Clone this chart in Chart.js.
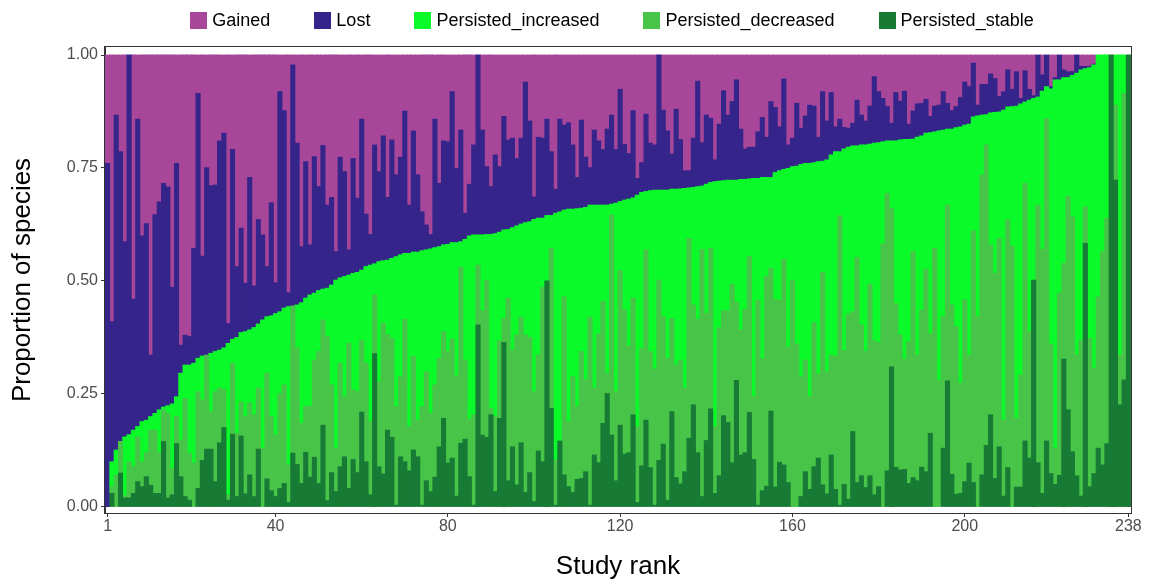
<!DOCTYPE html>
<html>
<head>
<meta charset="utf-8">
<script src="https://cdn.jsdelivr.net/npm/chart.js@4.4.1/dist/chart.umd.min.js"></script>
<style>
  html, body { margin: 0; padding: 0; background: #ffffff; }
  #wrap { width: 1151px; height: 585px; position: relative; }
  #legend {
    position: absolute; left: 99px; width: 1026px; top: 11px; height: 18px;
    display: flex; justify-content: center; align-items: center;
    font-family: 'Liberation Sans', Arial, sans-serif; font-size: 18px; color: #000;
  }
  .item { display: flex; align-items: center; margin: 0 22px; white-space: nowrap; }
  .key { width: 17px; height: 17px; margin-right: 5px; }
</style>
</head>
<body>
<div id="wrap">
  <canvas id="chart" width="1151" height="585"></canvas>
  <div id="legend"></div>
</div>
<script>
// study ranks 1..238 (categories)
const ranks = Array.from({ length: 238 }, (_, i) => i + 1);
const xTicks = [1, 40, 80, 120, 160, 200, 238];
const yTicks = [0, 0.25, 0.5, 0.75, 1];

// proportions, one value per study
const persistedStable = [
	0, 0.03, 0, 0.075, 0.02, 0.02, 0.03, 0.056, 0.045, 0.067, 0.048, 0.03, 0.03, 0.145, 0.02, 0.027, 0.14, 0.067, 0.023, 0.015,
	0, 0.041, 0.103, 0.128, 0.128, 0.056, 0.142, 0.176, 0.015, 0.161, 0.023, 0.157, 0.029, 0.071, 0.023, 0.128, 0, 0.062, 0.036, 0.023,
	0.041, 0.052, 0.01, 0.119, 0.094, 0.052, 0.121, 0.066, 0.11, 0.052, 0.181, 0.014, 0.076, 0.034, 0.089, 0.111, 0.041, 0.105, 0.076, 0.21,
	0.1, 0.027, 0.339, 0.089, 0.073, 0.17, 0.154, 0.004, 0.111, 0.1, 0.08, 0.126, 0.111, 0.004, 0.058, 0.034, 0.066, 0.133, 0.196, 0.097,
	0.108, 0.024, 0.141, 0.15, 0.067, 0.004, 0.403, 0.159, 0.154, 0.204, 0.034, 0.196, 0.364, 0.058, 0.133, 0.049, 0.142, 0.032, 0.076, 0.012,
	0.124, 0.1, 0.5, 0.218, 0.004, 0.146, 0.071, 0.045, 0.032, 0.061, 0.063, 0.078, 0.004, 0.115, 0.098, 0.185, 0.251, 0.159, 0.058, 0.181,
	0.117, 0.12, 0.204, 0.01, 0.091, 0.192, 0.087, 0.004, 0.103, 0.139, 0.015, 0.211, 0.065, 0.051, 0.078, 0.152, 0.226, 0.12, 0.023, 0.147,
	0.217, 0.03, 0.069, 0.202, 0.187, 0.098, 0.28, 0.115, 0.12, 0.209, 0.105, 0.004, 0.036, 0.046, 0.212, 0.044, 0.099, 0.093, 0.054, 0,
	0, 0.023, 0.078, 0.039, 0.089, 0.108, 0.049, 0.029, 0.115, 0.039, 0.004, 0.05, 0.017, 0.167, 0.054, 0.069, 0.043, 0.069, 0.027, 0.045,
	0, 0.08, 0.31, 0.088, 0.082, 0.083, 0.052, 0.065, 0.058, 0.088, 0.078, 0.163, 0, 0, 0.13, 0.279, 0.072, 0.028, 0.03, 0.056,
	0.097, 0.054, 0, 0.071, 0.136, 0.204, 0.063, 0.133, 0.024, 0.087, 0, 0.044, 0.044, 0.146, 0.108, 0.502, 0.098, 0.03, 0.146, 0.074,
	0.05, 0.07, 0.327, 0.215, 0.122, 0.069, 0.024, 0.583, 0.045, 0.074, 0.13, 0.093, 0.14, 1, 0.723, 0.226, 0.281, 1
];
const persistedDecreased = [
	0, 0.015, 0.07, 0.07, 0.005, 0.08, 0.06, 0.099, 0.055, 0.053, 0.122, 0.14, 0.09, 0.07, 0.187, 0.058, 0.06, 0.081, 0.217, 0.104,
	0.097, 0.214, 0.134, 0.208, 0.083, 0.199, 0.121, 0.084, 0.012, 0.157, 0.14, 0.075, 0.171, 0.159, 0.181, 0.135, 0.13, 0.234, 0.164, 0.136,
	0.21, 0.218, 0.083, 0.326, 0.258, 0.133, 0.102, 0.157, 0.215, 0.292, 0.233, 0.363, 0.194, 0.096, 0.229, 0.133, 0.321, 0.154, 0.179, 0.158,
	0.218, 0.162, 0.13, 0.188, 0.333, 0.211, 0.219, 0.218, 0.177, 0.315, 0.098, 0.207, 0.081, 0.218, 0.241, 0.173, 0.204, 0.196, 0.192, 0.247,
	0.263, 0.266, 0.389, 0.175, 0.127, 0.2, 0.132, 0.275, 0.347, 0.014, 0.166, 0.172, 0.053, 0.404, 0.214, 0.332, 0.278, 0.349, 0.299, 0.243,
	0.212, 0.386, 0, 0.354, 0.1, 0, 0.394, 0.144, 0.256, 0.161, 0.281, 0.203, 0.416, 0.148, 0.285, 0.27, 0.045, 0.487, 0.197, 0.342,
	0.319, 0.236, 0.258, 0.168, 0.26, 0.377, 0.257, 0.301, 0.399, 0.282, 0.314, 0.206, 0.249, 0.274, 0.185, 0.442, 0.221, 0.295, 0.547, 0.281,
	0.355, 0.148, 0.328, 0.232, 0.247, 0.395, 0.173, 0.277, 0.317, 0.345, 0.139, 0.453, 0.292, 0.464, 0.316, 0.415, 0.358, 0.455, 0.299, 0.501,
	0.361, 0.265, 0.247, 0.205, 0.319, 0.186, 0.47, 0.27, 0.221, 0.294, 0.64, 0.296, 0.41, 0.265, 0.498, 0.334, 0.301, 0.424, 0.341, 0.319,
	0.582, 0.614, 0.35, 0.362, 0.299, 0.244, 0.314, 0.5, 0.278, 0.348, 0.448, 0.22, 0.572, 0.28, 0.291, 0.389, 0.375, 0.371, 0.244, 0.403,
	0.239, 0.557, 0.421, 0.664, 0.665, 0.376, 0.454, 0.461, 0.168, 0.548, 0.577, 0.152, 0.248, 0.57, 0.28, 0, 0.57, 0.54, 0.714, 0.286,
	0.08, 0.403, 0.212, 0.472, 0.52, 0.267, 0.345, 0.081, 0.328, 0.233, 0.335, 0.472, 0.499, 0, 0.166, 0.11, 0.634, 0
];
const persistedIncreased = [
	0, 0.055, 0.056, 0, 0.13, 0.06, 0.08, 0.023, 0.089, 0.072, 0.03, 0.037, 0.095, 0.006, 0.017, 0.143, 0.044, 0.148, 0.074, 0.195,
	0.221, 0.074, 0.097, 0, 0.129, 0.089, 0.084, 0.092, 0.335, 0.053, 0.212, 0.154, 0.188, 0.162, 0.193, 0.142, 0.284, 0.125, 0.223, 0.269,
	0.181, 0.17, 0.35, 0, 0.095, 0.267, 0.239, 0.246, 0.148, 0.135, 0.068, 0.107, 0.221, 0.372, 0.189, 0.266, 0.151, 0.258, 0.264, 0.156,
	0.214, 0.346, 0.069, 0.266, 0.139, 0.165, 0.177, 0.332, 0.27, 0.146, 0.383, 0.231, 0.372, 0.345, 0.27, 0.364, 0.304, 0.247, 0.192, 0.237,
	0.214, 0.295, 0.057, 0.267, 0.406, 0.398, 0.067, 0.168, 0.102, 0.385, 0.405, 0.24, 0.196, 0.152, 0.271, 0.241, 0.206, 0.248, 0.256, 0.381,
	0.303, 0.153, 0.145, 0.073, 0.546, 0.507, 0.192, 0.47, 0.371, 0.438, 0.317, 0.382, 0.248, 0.405, 0.285, 0.213, 0.372, 0.024, 0.417, 0.153,
	0.243, 0.325, 0.222, 0.512, 0.345, 0.129, 0.356, 0.396, 0.199, 0.28, 0.372, 0.286, 0.389, 0.379, 0.442, 0.112, 0.26, 0.294, 0.14, 0.286,
	0.146, 0.542, 0.324, 0.288, 0.289, 0.23, 0.27, 0.333, 0.288, 0.172, 0.483, 0.27, 0.401, 0.219, 0.201, 0.281, 0.287, 0.199, 0.396, 0.252,
	0.393, 0.47, 0.435, 0.516, 0.354, 0.47, 0.246, 0.469, 0.443, 0.453, 0.142, 0.446, 0.369, 0.367, 0.247, 0.398, 0.457, 0.31, 0.437, 0.442,
	0.226, 0.116, 0.15, 0.36, 0.431, 0.486, 0.447, 0.249, 0.482, 0.385, 0.301, 0.445, 0.258, 0.552, 0.413, 0.168, 0.389, 0.44, 0.567, 0.386,
	0.511, 0.252, 0.444, 0.132, 0.067, 0.292, 0.356, 0.28, 0.686, 0.25, 0.309, 0.691, 0.6, 0.18, 0.512, 0.402, 0.239, 0.35, 0.07, 0.565,
	0.815, 0.472, 0.411, 0.263, 0.313, 0.624, 0.598, 0.306, 0.599, 0.671, 0.535, 0.435, 0.361, 0, 0.111, 0.664, 0.085, 0
];
const lost = [
	0.76, 0.31, 0.741, 0.641, 0.432, 0.84, 0.29, 0.68, 0.411, 0.435, 0.136, 0.44, 0.46, 0.495, 0.484, 0.258, 0.516, 0.062, 0.066, 0.063,
	0.254, 0.586, 0.221, 0.415, 0.371, 0.368, 0.463, 0.475, 0.044, 0.42, 0.157, 0.231, 0.107, 0.337, 0.092, 0.231, 0.188, 0.111, 0.25, 0.068,
	0.487, 0.437, 0.031, 0.533, 0.358, 0.124, 0.302, 0.111, 0.302, 0.23, 0.318, 0.184, 0.194, 0.063, 0.267, 0.232, 0.056, 0.254, 0.164, 0.334,
	0.116, 0.068, 0.263, 0.199, 0.276, 0.139, 0.262, 0.181, 0.216, 0.315, 0.107, 0.268, 0.171, 0.086, 0.055, 0.032, 0.284, 0.14, 0.23, 0.227,
	0.334, 0.164, 0.247, 0.058, 0.114, 0.199, 0.398, 0.232, 0.15, 0.106, 0.174, 0.145, 0.251, 0.198, 0.198, 0.149, 0.19, 0.311, 0.223, 0.05,
	0.179, 0.177, 0.213, 0.141, 0.053, 0.205, 0.188, 0.191, 0.142, 0.069, 0.195, 0.111, 0.083, 0.166, 0.142, 0.123, 0.168, 0.197, 0.119, 0.248,
	0.123, 0.101, 0.193, 0.037, 0.066, 0.171, 0.105, 0.1, 0.299, 0.177, 0.131, 0.078, 0.177, 0.109, 0.039, 0.038, 0.109, 0.233, 0.096, 0.153,
	0.142, 0.048, 0.126, 0.199, 0.144, 0.174, 0.222, 0.111, 0.067, 0.07, 0.069, 0.103, 0.133, 0.089, 0.168, 0.144, 0.097, 0.2, 0.052, 0.063,
	0.139, 0.08, 0.105, 0.129, 0.125, 0.054, 0.154, 0.086, 0.138, 0.055, 0.072, 0.048, 0.042, 0.05, 0.101, 0.066, 0.053, 0.084, 0.147, 0.113,
	0.096, 0.076, 0.039, 0.107, 0.086, 0.107, 0.034, 0.062, 0.074, 0.072, 0.075, 0.036, 0.057, 0.057, 0.085, 0.057, 0.041, 0.047, 0.065, 0.095,
	0.083, 0.119, 0.024, 0.068, 0.067, 0.086, 0.075, 0.034, 0.041, 0.082, 0.038, 0.076, 0.012, 0.069, 0.024, 0.006, 0.093, 0.036, 0.07, 0.005,
	0.005, 0.055, 0.017, 0.013, 0.008, 0.04, 0.008, 0.005, 0.003, 0.002, 0, 0, 0, 0, 0, 0, 0, 0
];
const gained = [
	0.24, 0.59, 0.133, 0.214, 0.413, 0, 0.54, 0.142, 0.4, 0.373, 0.664, 0.353, 0.325, 0.284, 0.292, 0.514, 0.24, 0.642, 0.62, 0.623,
	0.428, 0.085, 0.445, 0.249, 0.289, 0.288, 0.19, 0.173, 0.594, 0.209, 0.468, 0.383, 0.505, 0.271, 0.511, 0.364, 0.398, 0.468, 0.327, 0.504,
	0.081, 0.123, 0.526, 0.022, 0.195, 0.424, 0.236, 0.42, 0.225, 0.291, 0.2, 0.332, 0.315, 0.435, 0.226, 0.258, 0.431, 0.229, 0.317, 0.142,
	0.352, 0.397, 0.199, 0.258, 0.179, 0.315, 0.188, 0.265, 0.226, 0.124, 0.332, 0.168, 0.265, 0.347, 0.376, 0.397, 0.142, 0.284, 0.19, 0.192,
	0.081, 0.251, 0.166, 0.35, 0.286, 0.199, 0, 0.166, 0.247, 0.291, 0.221, 0.247, 0.136, 0.188, 0.184, 0.229, 0.184, 0.06, 0.146, 0.314,
	0.182, 0.184, 0.142, 0.214, 0.297, 0.142, 0.155, 0.15, 0.199, 0.271, 0.144, 0.226, 0.249, 0.166, 0.19, 0.209, 0.164, 0.133, 0.209, 0.076,
	0.198, 0.218, 0.123, 0.273, 0.238, 0.131, 0.195, 0.199, 0, 0.122, 0.168, 0.219, 0.12, 0.187, 0.256, 0.256, 0.184, 0.058, 0.194, 0.133,
	0.14, 0.232, 0.153, 0.079, 0.133, 0.103, 0.055, 0.164, 0.208, 0.204, 0.204, 0.17, 0.138, 0.182, 0.103, 0.116, 0.159, 0.053, 0.199, 0.184,
	0.107, 0.162, 0.135, 0.111, 0.113, 0.182, 0.081, 0.146, 0.083, 0.159, 0.142, 0.16, 0.162, 0.151, 0.1, 0.133, 0.146, 0.113, 0.048, 0.081,
	0.096, 0.114, 0.151, 0.083, 0.102, 0.08, 0.153, 0.124, 0.108, 0.107, 0.098, 0.136, 0.113, 0.111, 0.081, 0.107, 0.123, 0.114, 0.094, 0.06,
	0.07, 0.018, 0.111, 0.065, 0.065, 0.042, 0.052, 0.092, 0.081, 0.033, 0.076, 0.037, 0.096, 0.035, 0.076, 0.09, 0, 0.044, 0, 0.07,
	0.05, 0, 0.033, 0.037, 0.037, 0, 0.025, 0.025, 0.025, 0.02, 0, 0, 0, 0, 0, 0, 0, 0
];

const FONT = "'Liberation Sans', Arial, sans-serif";
Chart.defaults.font.family = FONT;

// zero-height segments are left out so they don't leave slivers
const noZero = (arr) => arr.map((v) => (v === 0 ? null : v));

// panel border on all four sides, like theme_bw
const panelBorder = {
	id: 'panelBorder',
	afterDraw(chart) {
		const { ctx, chartArea: a } = chart;
		ctx.save();
		ctx.strokeStyle = '#333333';
		ctx.lineWidth = 1;
		ctx.strokeRect(Math.round(a.left) - 0.5, Math.round(a.top) - 0.5, Math.round(a.right - a.left) + 1, Math.round(a.bottom - a.top) + 1);
		ctx.restore();
	},
};

const ctx = document.getElementById('chart').getContext('2d');
const chart = new Chart(ctx, {
	type: 'bar',
	data: {
		labels: ranks,
		datasets: [
			{ label: 'Persisted_stable', data: noZero(persistedStable), backgroundColor: '#177A35' },
			{ label: 'Persisted_decreased', data: noZero(persistedDecreased), backgroundColor: '#48C548' },
			{ label: 'Persisted_increased', data: noZero(persistedIncreased), backgroundColor: '#0AFA2A' },
			{ label: 'Lost', data: noZero(lost), backgroundColor: '#35258A' },
			{ label: 'Gained', data: noZero(gained), backgroundColor: '#A8479A' },
		],
	},
	options: {
		responsive: false,
		animation: false,
		devicePixelRatio: 1,
		datasets: {
			bar: {
				barPercentage: 1,
				categoryPercentage: 1,
				borderWidth: 0,
				inflateAmount: 0.4,
			},
		},
		layout: { padding: { left: 0, right: 20, top: 47, bottom: 0 } },
		plugins: {
			tooltip: { enabled: false },
			legend: { display: false },
		},
		scales: {
			x: {
				type: 'linear',
				stacked: true,
				offset: false,
				min: 0.4,
				max: 238.6,
				afterBuildTicks: (s) => {
					s.ticks = xTicks.map((v) => ({ value: v }));
				},
				afterFit: (s) => {
					s.height = 72;
				},
				ticks: { color: '#4D4D4D', font: { size: 16 }, padding: 0, autoSkip: false, maxRotation: 0 },
				grid: { offset: false, drawOnChartArea: false, drawTicks: true, tickLength: 4, color: '#333333' },
				border: { display: true, color: '#333333' },
				title: { display: true, text: 'Study rank', color: '#000000', font: { size: 26 }, padding: { top: 0, bottom: 3 } },
			},
			y: {
				stacked: true,
				min: -0.0133,
				max: 1.0177,
				afterBuildTicks: (s) => {
					s.ticks = yTicks.map((v) => ({ value: v }));
				},
				afterFit: (s) => {
					s.width = 105;
				},
				ticks: { color: '#4D4D4D', font: { size: 16 }, padding: 3, callback: (v) => Number(v).toFixed(2) },
				grid: { drawOnChartArea: false, drawTicks: true, tickLength: 4, color: '#333333' },
				border: { display: true, color: '#333333' },
				title: { display: true, text: 'Proportion of species', color: '#000000', font: { size: 26 }, padding: { top: 7, bottom: 0 } },
			},
		},
	},
	plugins: [panelBorder],
});

// legend in ggplot order: Gained first, Persisted_stable last
const legendEl = document.getElementById('legend');
chart.data.datasets.slice().reverse().forEach((ds) => {
	const item = document.createElement('div');
	item.className = 'item';
	const key = document.createElement('span');
	key.className = 'key';
	key.style.background = ds.backgroundColor;
	const label = document.createElement('span');
	label.textContent = ds.label;
	item.appendChild(key);
	item.appendChild(label);
	legendEl.appendChild(item);
});
</script>
</body>
</html>
